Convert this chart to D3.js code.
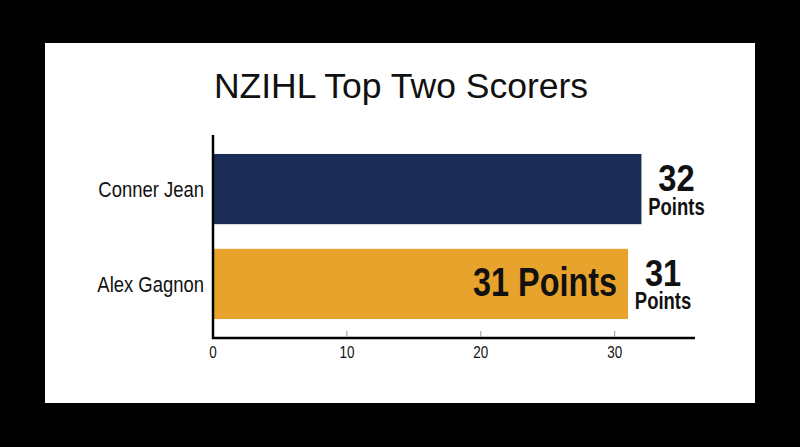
<!DOCTYPE html>
<html>
<head>
<meta charset="utf-8">
<script src="https://cdn.jsdelivr.net/npm/d3@7"></script>
<style>
  html, body { margin: 0; padding: 0; background: #000; }
  svg { display: block; }
</style>
</head>
<body>
<div id="chart"></div>
<script>
const players = ['Conner Jean', 'Alex Gagnon'];
const points = [32, 31];
const barColours = ['#1b2d57', '#e8a32c'];
const xTicks = [0, 10, 20, 30];
const title = 'NZIHL Top Two Scorers';

const W = 800, H = 447;
const sans = '"Liberation Sans", Arial, sans-serif';
const margin = {top: 135, right: 105, bottom: 109, left: 213};
const width = W - margin.left - margin.right;
const height = H - margin.top - margin.bottom;

// no narrow font installed, so squeeze text horizontally
function condense(sel, factor) {
  sel.each(function () {
    const len = this.getComputedTextLength();
    d3.select(this)
      .attr('textLength', len * factor)
      .attr('lengthAdjust', 'spacingAndGlyphs');
  });
}

const svg = d3.select('#chart').append('svg')
  .attr('width', W)
  .attr('height', H);

// black frame with the white card on it
svg.append('rect').attr('width', W).attr('height', H).attr('fill', '#000');
svg.append('rect')
  .attr('x', 45).attr('y', 43)
  .attr('width', 710).attr('height', 360)
  .attr('fill', '#fff');

svg.append('text')
  .attr('x', 401).attr('y', 98)
  .attr('text-anchor', 'middle')
  .style('font-family', sans)
  .style('font-size', '35.5px')
  .attr('fill', '#111')
  .text(title);

const g = svg.append('g')
  .attr('transform', `translate(${margin.left}, ${margin.top})`);

const x = d3.scaleLinear().domain([0, 36]).range([0, width]);
const y = d3.scaleBand().domain(players).range([0, height])
  .paddingInner(0.26).paddingOuter(0.2);

// bars
g.selectAll('rect.bar')
  .data(players)
  .enter().append('rect')
  .attr('class', 'bar')
  .attr('x', 0)
  .attr('y', (d) => y(d))
  .attr('width', (d, i) => x(points[i]))
  .attr('height', y.bandwidth())
  .attr('fill', (d, i) => barColours[i]);

// x axis - small grey ticks pointing up, labels below
const xAxis = g.append('g')
  .attr('transform', `translate(0, ${height})`);
xAxis.append('line')
  .attr('x1', -1).attr('x2', width)
  .attr('stroke', '#000').attr('stroke-width', 2.5);
xAxis.selectAll('line.tick')
  .data(xTicks.filter((t) => t > 0))
  .enter().append('line')
  .attr('class', 'tick')
  .attr('x1', (d) => x(d)).attr('x2', (d) => x(d))
  .attr('y1', -1).attr('y2', -7)
  .attr('stroke', '#999').attr('stroke-width', 1);
xAxis.selectAll('text')
  .data(xTicks)
  .enter().append('text')
  .attr('x', (d) => x(d))
  .attr('y', 20)
  .attr('text-anchor', 'middle')
  .style('font-family', sans)
  .style('font-size', '16px')
  .attr('fill', '#111')
  .text((d) => d)
  .call(condense, 0.84);

// y axis line + category labels
g.append('line')
  .attr('x1', 0).attr('x2', 0)
  .attr('y1', 0).attr('y2', height + 1)
  .attr('stroke', '#000').attr('stroke-width', 2.5);
g.selectAll('text.cat')
  .data(players)
  .enter().append('text')
  .attr('class', 'cat')
  .attr('x', -9)
  .attr('y', (d) => y(d) + y.bandwidth() / 2)
  .attr('dy', '0.36em')
  .attr('text-anchor', 'end')
  .style('font-family', sans)
  .style('font-size', '22.5px')
  .attr('fill', '#111')
  .text((d) => d)
  .call(condense, 0.82);

// value labels right of each bar: big number, "Points" below
const labels = g.selectAll('g.val')
  .data(players)
  .enter().append('g')
  .attr('class', 'val')
  .attr('transform', (d, i) => `translate(${x(points[i]) + 35}, ${y(d) + y.bandwidth() / 2})`);
labels.append('text')
  .attr('y', 2)
  .attr('text-anchor', 'middle')
  .style('font-family', sans)
  .style('font-weight', 'bold')
  .style('font-size', '37.5px')
  .attr('fill', '#111')
  .text((d, i) => points[i])
  .call(condense, 0.87);
labels.append('text')
  .attr('y', 25.5)
  .attr('text-anchor', 'middle')
  .style('font-family', sans)
  .style('font-weight', 'bold')
  .style('font-size', '24px')
  .attr('fill', '#111')
  .text('Points')
  .call(condense, 0.77);

// label inside the gold bar
g.append('text')
  .attr('x', x(points[1]) - 11)
  .attr('y', y(players[1]) + y.bandwidth() / 2 + 12)
  .attr('text-anchor', 'end')
  .style('font-family', sans)
  .style('font-weight', 'bold')
  .style('font-size', '40px')
  .attr('fill', '#111')
  .text(`${points[1]} Points`)
  .call(condense, 0.81);
</script>
</body>
</html>
